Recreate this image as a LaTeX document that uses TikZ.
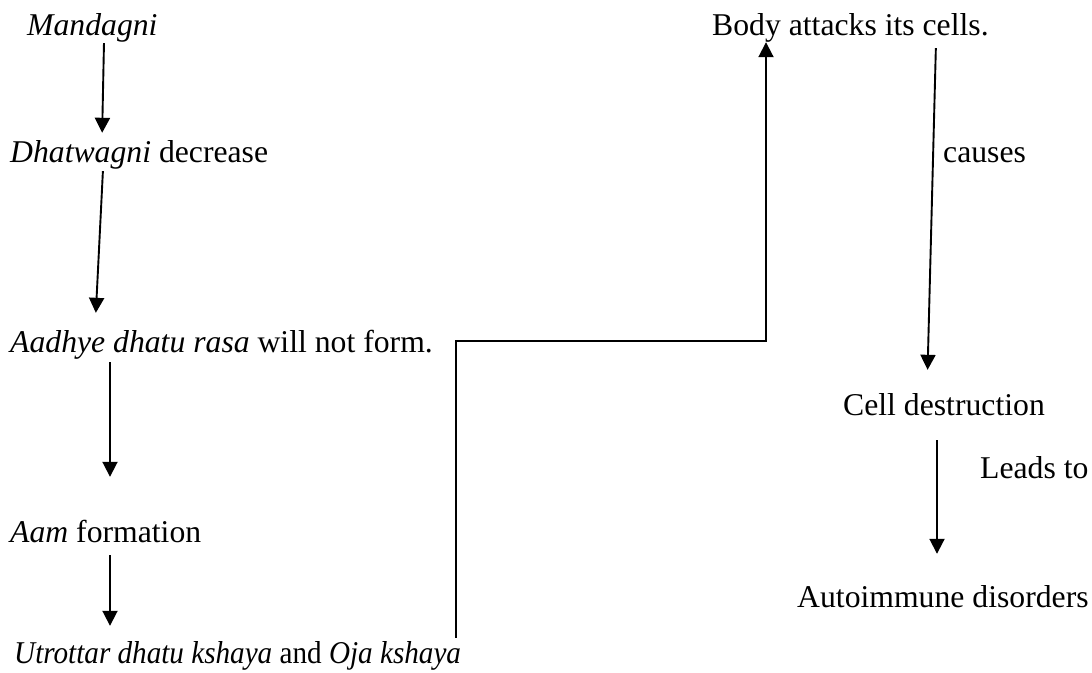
\documentclass[tikz,border=0pt]{standalone}
\usepackage{fontspec}
\usepackage{graphicx}
\setmainfont{Liberation Serif}
\usetikzlibrary{arrows.meta}
\begin{document}
\begin{tikzpicture}[x=1pt,y=-1pt,
  txt/.style={anchor=base west, inner sep=0pt, text height=22pt, text depth=7pt,
    font=\fontsize{31.7}{38}\selectfont},
  arr/.style={line width=1.9pt, -{Triangle[length=15pt,width=15pt]}}]
\useasboundingbox (0,0) rectangle (1092,672);
\node[txt] (mand) at (27,35) {\textit{Mandagni}};
\node[txt] (dhat) at (10,162) {\textit{Dhatwagni} decrease};
\node[txt] (aadh) at (10,352) {\textit{Aadhye dhatu rasa} will not form.};
\node[txt] (aam) at (10,542) {\textit{Aam} formation};
\node[txt] (utr) at (14,663) {\scalebox{0.92}[1]{\textit{Utrottar dhatu kshaya} and \textit{Oja kshaya}}};
\node[txt] (body) at (712,35) {Body attacks its cells.};
\node[txt] (causes) at (943,162) {causes};
\node[txt] (cell) at (843,415) {Cell destruction};
\node[txt] (leads) at (980,478) {Leads to};
\node[txt] (auto) at (797,607) {Autoimmune disorders};
\draw[arr, shorten <=1pt, shorten >=7pt] (mand.south -| 104,0) -- (dhat.north -| 102,0);
\draw[arr, shorten <=2pt, shorten >=17pt] (dhat.south -| 103,0) -- (aadh.north -| 95,0);
\draw[arr, shorten <=3pt, shorten >=43pt] (aadh.south -| 110,0) -- (aam.north -| 110,0);
\draw[arr, shorten <=6pt, shorten >=15pt] (aam.south -| 110,0) -- (utr.north -| 110,0);
\draw[arr, shorten <=3pt] (utr.north -| 456,0) -- (456,341) -- (766,341) -- (body.south -| 766,0);
\draw[arr, shorten <=6pt, shorten >=23pt] (body.south -| 936,0) -- (cell.north -| 927,0);
\draw[arr, shorten <=18pt, shorten >=31pt] (cell.south -| 937,0) -- (auto.north -| 937,0);
\end{tikzpicture}
\end{document}
